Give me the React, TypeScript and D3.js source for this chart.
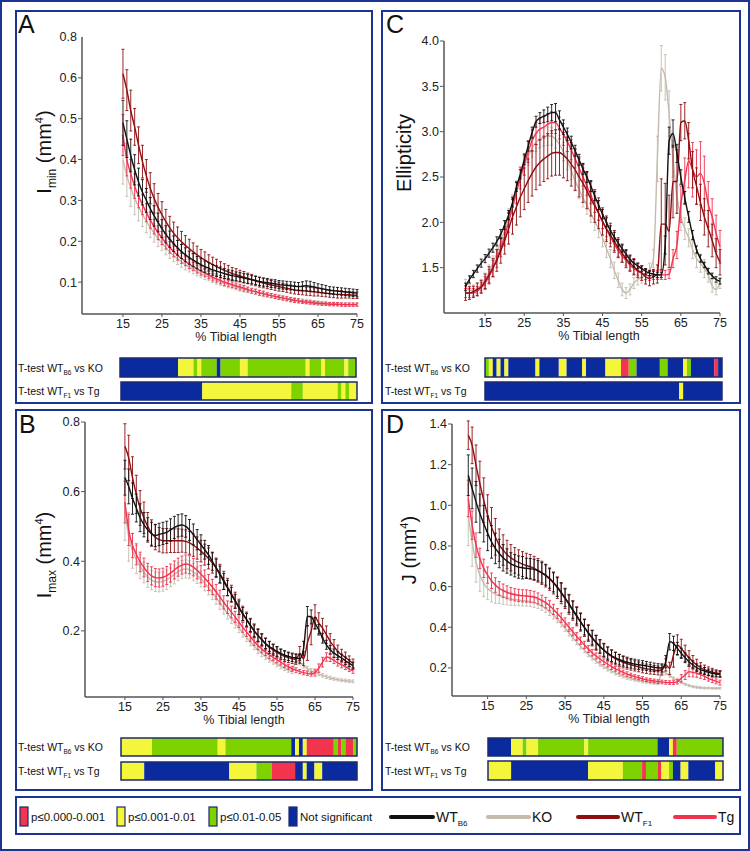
import React from "react";
import * as d3 from "d3";

const FONT = "'Liberation Sans', Arial, Helvetica, sans-serif";
const NAVY = "#1d3391";
const COLORS: Record<string, string> = { WTB6: "#111111", KO: "#c4bbae", WTF1: "#8e0f12", Tg: "#f0334f" };
const SIG: Record<string, string> = { n: "#0b2a9e", g: "#7ed200", y: "#f3f63a", r: "#f2344e" };

// x categories (% tibial length)
const pctAB = d3.range(15, 76);
const pctCD = d3.range(10, 76);
const xTickVals = [15, 25, 35, 45, 55, 65, 75];

// ---------- Panel A : Imin ----------
const A_WTB6 = [0.49,0.45,0.41,0.375,0.345,0.32,0.3,0.28,0.262,0.246, 0.231,0.217,0.205,0.194,0.184,0.175,0.167,0.16,0.154,0.148, 0.143,0.138,0.134,0.13,0.127,0.124,0.121,0.118,0.116,0.114, 0.112,0.11,0.108,0.106,0.104,0.102,0.1,0.099,0.097,0.096, 0.094,0.093,0.092,0.091,0.09,0.089,0.09,0.091,0.09,0.088, 0.086,0.084,0.082,0.08,0.079,0.078,0.077,0.076,0.075,0.074, 0.073];
const A_WTB6_err = [0.055,0.045,0.04,0.037,0.034,0.031,0.029,0.027,0.025,0.023, 0.022,0.021,0.02,0.019,0.018,0.017,0.017,0.016,0.016,0.015, 0.015,0.014,0.014,0.013,0.013,0.013,0.012,0.012,0.012,0.011, 0.011,0.011,0.011,0.01,0.01,0.01,0.01,0.01,0.01,0.01, 0.01,0.01,0.01,0.01,0.01,0.01,0.011,0.012,0.012,0.011, 0.01,0.01,0.01,0.009,0.009,0.009,0.009,0.009,0.009,0.009, 0.009];
const A_WTF1 = [0.61,0.57,0.52,0.48,0.435,0.395,0.36,0.33,0.305,0.283, 0.265,0.248,0.233,0.22,0.209,0.199,0.19,0.182,0.174,0.167, 0.16,0.154,0.148,0.143,0.138,0.133,0.129,0.125,0.121,0.118, 0.115,0.112,0.109,0.106,0.103,0.1,0.098,0.095,0.093,0.091, 0.089,0.087,0.085,0.083,0.081,0.08,0.079,0.078,0.077,0.076, 0.075,0.074,0.073,0.072,0.071,0.07,0.07,0.069,0.069,0.068, 0.068];
const A_WTF1_err = [0.06,0.05,0.05,0.045,0.045,0.04,0.04,0.038,0.036,0.034, 0.032,0.03,0.028,0.027,0.026,0.025,0.024,0.023,0.022,0.021, 0.02,0.02,0.019,0.018,0.018,0.017,0.016,0.016,0.015,0.015, 0.014,0.014,0.013,0.013,0.012,0.012,0.012,0.011,0.011,0.011, 0.011,0.01,0.01,0.01,0.01,0.01,0.01,0.01,0.01,0.01, 0.009,0.009,0.009,0.009,0.009,0.009,0.009,0.008,0.008,0.008, 0.008];
const A_Tg = [0.46,0.4,0.365,0.335,0.31,0.29,0.27,0.252,0.236,0.221, 0.208,0.196,0.185,0.175,0.166,0.158,0.151,0.144,0.138,0.132, 0.127,0.122,0.117,0.112,0.108,0.104,0.1,0.097,0.094,0.091, 0.088,0.085,0.082,0.079,0.077,0.074,0.072,0.069,0.067,0.065, 0.063,0.061,0.059,0.057,0.055,0.054,0.052,0.051,0.05,0.049, 0.048,0.047,0.047,0.046,0.046,0.046,0.045,0.045,0.045,0.045, 0.045];
const A_Tg_err = [0.05,0.04,0.035,0.03,0.028,0.025,0.022,0.02,0.018,0.017, 0.016,0.015,0.014,0.013,0.012,0.012,0.011,0.011,0.01,0.01, 0.01,0.009,0.009,0.009,0.008,0.008,0.008,0.008,0.007,0.007, 0.007,0.007,0.006,0.006,0.006,0.006,0.006,0.005,0.005,0.005, 0.005,0.005,0.005,0.005,0.005,0.005,0.004,0.004,0.004,0.004, 0.004,0.004,0.004,0.004,0.004,0.004,0.004,0.004,0.004,0.004, 0.004];
const A_KO = [0.4,0.36,0.33,0.305,0.285,0.266,0.249,0.234,0.22,0.207, 0.195,0.184,0.174,0.165,0.157,0.15,0.143,0.137,0.131,0.126, 0.121,0.116,0.112,0.108,0.104,0.1,0.097,0.094,0.091,0.088, 0.085,0.083,0.08,0.078,0.076,0.073,0.071,0.069,0.067,0.065, 0.063,0.061,0.06,0.058,0.057,0.055,0.054,0.053,0.052,0.051, 0.05,0.049,0.048,0.047,0.047,0.046,0.046,0.045,0.045,0.045, 0.045];
const A_KO_err = [0.06,0.05,0.045,0.04,0.035,0.03,0.028,0.025,0.022,0.02, 0.018,0.017,0.016,0.015,0.014,0.014,0.013,0.012,0.011,0.011, 0.01,0.01,0.009,0.009,0.009,0.008,0.008,0.008,0.007,0.007, 0.007,0.007,0.006,0.006,0.006,0.006,0.005,0.005,0.005,0.005, 0.005,0.005,0.005,0.005,0.005,0.005,0.005,0.005,0.005,0.004, 0.004,0.004,0.004,0.004,0.004,0.004,0.004,0.004,0.004,0.004, 0.004];

// ---------- Panel B : Imax ----------
const B_WTB6 = [0.64,0.615,0.58,0.553,0.525,0.505,0.49,0.479,0.474,0.477, 0.48,0.483,0.49,0.497,0.502,0.504,0.5,0.49,0.477,0.462, 0.448,0.433,0.418,0.4,0.381,0.362,0.342,0.323,0.304,0.285, 0.266,0.248,0.232,0.216,0.2,0.187,0.175,0.164,0.155,0.148, 0.141,0.135,0.13,0.127,0.124,0.122,0.12,0.15,0.242,0.24, 0.222,0.203,0.179,0.16,0.146,0.136,0.129,0.122,0.114,0.107, 0.1];
const B_WTB6_err = [0.05,0.05,0.045,0.04,0.04,0.035,0.035,0.033,0.032,0.032, 0.032,0.032,0.032,0.032,0.032,0.032,0.031,0.03,0.03,0.029, 0.028,0.027,0.027,0.026,0.025,0.024,0.023,0.022,0.021,0.02, 0.02,0.019,0.018,0.018,0.017,0.017,0.016,0.015,0.015,0.014, 0.014,0.013,0.013,0.012,0.012,0.012,0.013,0.02,0.028,0.02, 0.016,0.015,0.014,0.013,0.012,0.012,0.011,0.011,0.011,0.01, 0.01];
const B_WTF1 = [0.73,0.697,0.64,0.592,0.553,0.525,0.5,0.481,0.469,0.462, 0.459,0.459,0.459,0.459,0.459,0.459,0.457,0.453,0.446,0.438, 0.429,0.419,0.408,0.395,0.381,0.364,0.345,0.326,0.307,0.288, 0.269,0.25,0.233,0.216,0.2,0.187,0.174,0.162,0.152,0.145, 0.138,0.132,0.127,0.123,0.12,0.118,0.135,0.12,0.165,0.2, 0.24,0.222,0.208,0.189,0.17,0.155,0.141,0.131,0.124,0.115, 0.107];
const B_WTF1_err = [0.065,0.065,0.06,0.055,0.05,0.045,0.04,0.038,0.036,0.035, 0.035,0.035,0.034,0.034,0.034,0.033,0.033,0.033,0.032,0.032, 0.031,0.03,0.03,0.029,0.028,0.027,0.026,0.025,0.024,0.023, 0.022,0.021,0.021,0.02,0.02,0.019,0.018,0.017,0.017,0.016, 0.016,0.015,0.015,0.014,0.014,0.014,0.02,0.02,0.05,0.04, 0.035,0.03,0.028,0.025,0.022,0.02,0.018,0.016,0.015,0.013, 0.012];
const B_Tg = [0.57,0.49,0.445,0.42,0.398,0.382,0.368,0.358,0.353,0.352, 0.354,0.359,0.366,0.375,0.383,0.389,0.392,0.39,0.383,0.374, 0.363,0.351,0.339,0.326,0.312,0.297,0.282,0.268,0.254,0.24, 0.225,0.21,0.197,0.183,0.17,0.158,0.148,0.139,0.131,0.124, 0.117,0.11,0.103,0.097,0.091,0.087,0.083,0.08,0.078,0.076, 0.08,0.093,0.11,0.125,0.122,0.115,0.108,0.102,0.097,0.09, 0.085];
const B_Tg_err = [0.06,0.045,0.035,0.03,0.028,0.027,0.026,0.026,0.026,0.026, 0.026,0.026,0.026,0.026,0.026,0.026,0.026,0.026,0.025,0.025, 0.025,0.024,0.023,0.022,0.021,0.02,0.019,0.018,0.017,0.016, 0.015,0.014,0.013,0.013,0.012,0.012,0.011,0.01,0.01,0.009, 0.009,0.008,0.008,0.007,0.007,0.007,0.006,0.006,0.006,0.006, 0.01,0.012,0.014,0.012,0.01,0.009,0.009,0.008,0.008,0.007, 0.007];
const B_KO = [0.55,0.47,0.43,0.405,0.385,0.368,0.355,0.346,0.341,0.34, 0.342,0.347,0.354,0.362,0.37,0.376,0.378,0.376,0.369,0.36, 0.349,0.337,0.324,0.31,0.295,0.28,0.265,0.25,0.236,0.222, 0.208,0.194,0.181,0.168,0.156,0.145,0.135,0.126,0.118,0.111, 0.104,0.098,0.092,0.087,0.083,0.115,0.11,0.1,0.092,0.086, 0.081,0.076,0.072,0.068,0.065,0.062,0.06,0.058,0.057,0.056, 0.055];
const B_KO_err = [0.09,0.07,0.05,0.04,0.035,0.03,0.03,0.028,0.028,0.028, 0.028,0.028,0.027,0.027,0.026,0.026,0.026,0.025,0.025,0.024, 0.023,0.022,0.021,0.02,0.019,0.018,0.017,0.016,0.015,0.014, 0.013,0.012,0.012,0.011,0.01,0.01,0.009,0.008,0.008,0.007, 0.007,0.007,0.006,0.006,0.006,0.01,0.008,0.007,0.006,0.006, 0.005,0.005,0.005,0.005,0.005,0.004,0.004,0.004,0.004,0.004, 0.004];

// ---------- Panel C : Ellipticity ----------
const C_WTB6 = [1.29,1.37,1.43,1.49,1.55,1.6,1.66,1.72,1.79,1.87, 1.97,2.08,2.22,2.39,2.53,2.69,2.84,2.99,3.11,3.15, 3.17,3.19,3.21,3.21,3.13,3.05,2.97,2.88,2.79,2.69, 2.59,2.5,2.4,2.29,2.19,2.09,2.0,1.91,1.84,1.77, 1.71,1.65,1.59,1.55,1.52,1.49,1.46,1.44,1.43,1.42, 1.42,1.75,2.9,2.98,2.76,2.5,2.27,2.06,1.86,1.7, 1.6,1.53,1.46,1.41,1.37,1.35];
const C_WTB6_err = [0.04,0.04,0.04,0.04,0.045,0.045,0.045,0.05,0.05,0.05, 0.05,0.05,0.05,0.05,0.05,0.055,0.055,0.06,0.06,0.06, 0.07,0.08,0.09,0.1,0.1,0.08,0.07,0.07,0.06,0.06, 0.06,0.06,0.06,0.05,0.05,0.05,0.05,0.05,0.05,0.04, 0.04,0.04,0.04,0.04,0.03,0.03,0.03,0.03,0.03,0.03, 0.03,0.1,0.15,0.15,0.1,0.08,0.07,0.06,0.05,0.04, 0.04,0.03,0.03,0.03,0.03,0.03];
const C_WTF1 = [1.22,1.22,1.235,1.26,1.29,1.35,1.42,1.5,1.58,1.69, 1.8,1.93,2.06,2.17,2.28,2.37,2.46,2.54,2.61,2.66, 2.7,2.73,2.76,2.77,2.77,2.74,2.7,2.64,2.58,2.5, 2.43,2.35,2.26,2.18,2.1,2.01,1.93,1.86,1.79,1.72, 1.66,1.6,1.55,1.51,1.47,1.44,1.4,1.38,1.4,1.43, 1.98,1.98,1.9,2.45,2.45,3.1,3.12,2.9,2.58,2.4, 2.22,2.06,1.93,1.8,1.66,1.56];
const C_WTF1_err = [0.08,0.07,0.06,0.07,0.07,0.08,0.09,0.1,0.12,0.14, 0.15,0.17,0.19,0.2,0.22,0.23,0.24,0.25,0.25,0.25, 0.25,0.25,0.25,0.25,0.25,0.25,0.24,0.24,0.23,0.22, 0.21,0.2,0.19,0.18,0.17,0.15,0.14,0.13,0.12,0.11, 0.1,0.1,0.09,0.09,0.08,0.08,0.08,0.08,0.08,0.1, 0.5,0.45,0.4,0.4,0.35,0.2,0.2,0.2,0.2,0.2, 0.2,0.2,0.2,0.18,0.16,0.14];
const C_Tg = [1.22,1.22,1.22,1.24,1.28,1.33,1.4,1.49,1.6,1.72, 1.85,2.0,2.16,2.33,2.49,2.64,2.78,2.9,2.98,3.03, 3.05,3.08,3.1,3.1,3.04,2.97,2.89,2.8,2.7,2.6, 2.5,2.4,2.3,2.2,2.1,2.01,1.92,1.84,1.76,1.69, 1.63,1.58,1.53,1.49,1.46,1.44,1.42,1.41,1.42,1.42, 1.42,1.42,1.43,1.6,1.75,2.2,2.46,2.68,2.58,2.5, 2.54,2.43,2.2,2.06,1.88,1.73];
const C_Tg_err = [0.05,0.05,0.05,0.05,0.06,0.07,0.08,0.09,0.1,0.1, 0.11,0.11,0.12,0.12,0.12,0.12,0.12,0.12,0.12,0.12, 0.12,0.12,0.12,0.12,0.12,0.12,0.11,0.11,0.1,0.1, 0.1,0.1,0.09,0.09,0.08,0.08,0.08,0.07,0.07,0.07, 0.07,0.06,0.06,0.06,0.05,0.05,0.05,0.05,0.05,0.05, 0.05,0.05,0.05,0.1,0.15,0.2,0.25,0.3,0.3,0.3, 0.35,0.3,0.25,0.2,0.2,0.18];
const C_KO = [1.3,1.25,1.25,1.27,1.31,1.37,1.45,1.55,1.66,1.78, 1.91,2.05,2.2,2.36,2.5,2.62,2.73,2.82,2.88,2.92, 2.94,2.95,2.95,2.92,2.86,2.78,2.68,2.57,2.46,2.36, 2.27,2.19,2.1,2.01,1.93,1.83,1.71,1.6,1.47,1.36, 1.26,1.22,1.26,1.33,1.37,1.39,1.42,1.47,1.6,2.7, 3.7,3.6,3.2,2.7,2.28,2.06,1.93,1.83,1.7,1.6, 1.55,1.49,1.42,1.3,1.26,1.33];
const C_KO_err = [0.07,0.06,0.06,0.06,0.06,0.07,0.08,0.08,0.09,0.09, 0.1,0.1,0.1,0.1,0.1,0.1,0.1,0.1,0.1,0.1, 0.1,0.1,0.1,0.1,0.1,0.1,0.1,0.1,0.1,0.1, 0.1,0.1,0.1,0.1,0.1,0.1,0.1,0.1,0.09,0.08, 0.07,0.06,0.06,0.06,0.06,0.06,0.07,0.08,0.1,0.25, 0.25,0.25,0.25,0.2,0.18,0.15,0.12,0.1,0.1,0.1, 0.1,0.1,0.08,0.07,0.06,0.06];

// ---------- Panel D : J ----------
const D_WTB6 = [1.148,1.083,1.017,0.96,0.91,0.862,0.82,0.788,0.763,0.742, 0.726,0.712,0.703,0.696,0.693,0.69,0.688,0.685,0.678,0.668, 0.657,0.64,0.621,0.598,0.572,0.545,0.516,0.486,0.457,0.427, 0.4,0.373,0.349,0.326,0.306,0.288,0.273,0.26,0.25,0.241, 0.234,0.228,0.223,0.219,0.216,0.213,0.21,0.206,0.203,0.201, 0.2,0.231,0.329,0.321,0.296,0.272,0.25,0.231,0.215,0.201, 0.192,0.185,0.178,0.174,0.17,0.169];
const D_WTB6_err = [0.1,0.1,0.1,0.095,0.09,0.085,0.08,0.075,0.07,0.065, 0.06,0.055,0.055,0.055,0.055,0.05,0.05,0.05,0.05,0.05, 0.05,0.048,0.047,0.046,0.045,0.044,0.043,0.042,0.041,0.04, 0.038,0.036,0.035,0.034,0.032,0.031,0.03,0.028,0.027,0.026, 0.025,0.025,0.024,0.024,0.023,0.023,0.022,0.022,0.021,0.02, 0.02,0.03,0.04,0.035,0.03,0.025,0.024,0.022,0.02,0.019, 0.018,0.017,0.016,0.016,0.015,0.015];
const D_WTF1 = [1.345,1.295,1.197,1.107,1.025,0.952,0.894,0.845,0.804,0.78, 0.758,0.742,0.729,0.719,0.711,0.704,0.698,0.69,0.68,0.668, 0.654,0.637,0.618,0.595,0.568,0.542,0.513,0.483,0.454,0.426, 0.398,0.372,0.347,0.324,0.305,0.287,0.27,0.257,0.246,0.236, 0.228,0.221,0.215,0.21,0.205,0.2,0.196,0.193,0.19,0.188, 0.19,0.215,0.198,0.264,0.313,0.296,0.272,0.25,0.231,0.215, 0.201,0.192,0.185,0.18,0.175,0.172];
const D_WTF1_err = [0.07,0.09,0.1,0.11,0.11,0.1,0.095,0.09,0.08,0.075, 0.07,0.065,0.063,0.062,0.061,0.06,0.06,0.059,0.058,0.057, 0.056,0.055,0.054,0.053,0.052,0.05,0.049,0.048,0.047,0.045, 0.043,0.041,0.039,0.037,0.035,0.034,0.033,0.032,0.031,0.03, 0.028,0.027,0.026,0.025,0.024,0.024,0.023,0.023,0.022,0.022, 0.025,0.03,0.03,0.06,0.05,0.045,0.04,0.035,0.03,0.028, 0.025,0.022,0.02,0.018,0.016,0.015];
const D_Tg = [1.034,0.902,0.804,0.739,0.69,0.657,0.629,0.608,0.591,0.58, 0.572,0.565,0.56,0.557,0.555,0.554,0.552,0.549,0.542,0.532, 0.521,0.506,0.488,0.468,0.447,0.424,0.401,0.378,0.355,0.334, 0.313,0.293,0.275,0.259,0.244,0.231,0.218,0.206,0.196,0.187, 0.178,0.17,0.164,0.157,0.152,0.147,0.142,0.139,0.136,0.133, 0.131,0.129,0.128,0.128,0.133,0.149,0.165,0.182,0.178,0.174, 0.167,0.159,0.149,0.141,0.134,0.128];
const D_Tg_err = [0.09,0.07,0.06,0.05,0.045,0.04,0.038,0.036,0.034,0.033, 0.032,0.031,0.03,0.03,0.03,0.03,0.029,0.028,0.027,0.026, 0.026,0.025,0.025,0.024,0.023,0.022,0.021,0.02,0.019,0.018, 0.018,0.017,0.016,0.015,0.015,0.014,0.013,0.013,0.012,0.012, 0.011,0.011,0.01,0.01,0.01,0.01,0.009,0.009,0.009,0.009, 0.009,0.009,0.009,0.009,0.012,0.018,0.022,0.025,0.022,0.02, 0.018,0.016,0.014,0.013,0.012,0.012];
const D_KO = [0.952,0.82,0.722,0.657,0.616,0.591,0.575,0.563,0.557,0.55, 0.545,0.54,0.537,0.534,0.531,0.529,0.526,0.521,0.514,0.504, 0.493,0.478,0.46,0.441,0.419,0.396,0.373,0.35,0.327,0.306, 0.287,0.267,0.25,0.234,0.219,0.206,0.195,0.185,0.175,0.167, 0.159,0.152,0.147,0.142,0.138,0.134,0.131,0.128,0.126,0.124, 0.182,0.174,0.162,0.149,0.138,0.128,0.12,0.113,0.108,0.105, 0.103,0.101,0.101,0.1,0.1,0.1];
const D_KO_err = [0.15,0.12,0.1,0.08,0.065,0.055,0.05,0.045,0.04,0.037, 0.035,0.032,0.03,0.028,0.026,0.025,0.024,0.023,0.022,0.021, 0.02,0.02,0.019,0.018,0.017,0.016,0.015,0.014,0.013,0.013, 0.012,0.012,0.011,0.011,0.01,0.01,0.01,0.009,0.009,0.008, 0.008,0.008,0.007,0.007,0.007,0.007,0.006,0.006,0.006,0.006, 0.01,0.008,0.007,0.006,0.006,0.005,0.005,0.005,0.005,0.005, 0.005,0.004,0.004,0.004,0.004,0.004];

// ---------- T-test significance segments [from %, to %, code] ----------
type Seg = [number, number, string];
const ttA1: Seg[] = [[15,29,"n"],[30,33,"y"],[34,34,"g"],[35,35,"y"],[36,39,"g"],[40,40,"n"],[41,45,"g"],[46,47,"y"],[48,62,"g"],[63,63,"y"],[64,66,"g"],[67,67,"y"],[68,72,"g"],[73,73,"y"],[74,75,"g"]];
const ttA2: Seg[] = [[15,35,"n"],[36,58,"y"],[59,61,"g"],[62,70,"y"],[71,71,"g"],[72,72,"y"],[73,73,"g"],[74,75,"y"]];
const ttB1: Seg[] = [[15,22,"y"],[23,39,"g"],[40,41,"y"],[42,58,"g"],[59,59,"n"],[60,60,"y"],[61,61,"n"],[62,62,"y"],[63,69,"r"],[70,70,"g"],[71,71,"r"],[72,72,"g"],[73,74,"r"],[75,75,"g"]];
const ttB2: Seg[] = [[15,20,"y"],[21,42,"n"],[43,49,"y"],[50,53,"g"],[54,59,"r"],[60,61,"n"],[62,62,"y"],[63,64,"n"],[65,66,"y"],[67,75,"n"]];
const ttC1: Seg[] = [[15,15,"g"],[16,16,"y"],[17,17,"n"],[18,18,"y"],[19,19,"n"],[20,20,"y"],[21,27,"n"],[28,28,"y"],[29,33,"n"],[34,35,"y"],[36,39,"n"],[40,40,"y"],[41,45,"n"],[46,49,"y"],[50,51,"r"],[52,53,"g"],[54,59,"n"],[60,61,"g"],[62,65,"n"],[66,66,"y"],[67,67,"g"],[68,73,"n"],[74,74,"r"],[75,75,"n"]];
const ttC2: Seg[] = [[15,64,"n"],[65,65,"y"],[66,75,"n"]];
const ttD1: Seg[] = [[15,20,"n"],[21,23,"y"],[24,24,"g"],[25,27,"y"],[28,39,"g"],[40,40,"y"],[41,58,"g"],[59,61,"n"],[62,62,"y"],[63,63,"r"],[64,75,"g"]];
const ttD2: Seg[] = [[15,20,"y"],[21,40,"n"],[41,49,"y"],[50,54,"g"],[55,55,"r"],[56,58,"g"],[59,59,"r"],[60,61,"y"],[62,62,"g"],[63,64,"n"],[65,66,"y"],[67,73,"n"],[74,75,"y"]];

const sigLegendLabels = ["p≤0.000-0.001", "p≤0.001-0.01", "p≤0.01-0.05", "Not significant"];
const sigLegendCodes = ["r", "y", "g", "n"];

type Series = { key: string; mean: number[]; err: number[] };
interface PanelCfg {
  letter: string;
  frame: [number, number, number, number];
  letterXY: [number, number];
  xDomain: [number, number]; xRange: [number, number];
  yDomain: [number, number]; yRange: [number, number];
  yTicks: number[]; yTickLabels: string[];
  pct: number[];
  series: Series[];
  yTitle: "Imin" | "Imax" | "Ell" | "J";
  yTitleXY: [number, number];
  xTitleX: number;
  tt: Seg[][]; ttX: [number, number][]; ttY: [number, number][]; ttLabelX: number;
}

const mkSeries = (wtb6: number[], wtb6e: number[], ko: number[], koe: number[], wtf1: number[], wtf1e: number[], tg: number[], tge: number[]): Series[] => [
  { key: "KO", mean: ko, err: koe },
  { key: "Tg", mean: tg, err: tge },
  { key: "WTF1", mean: wtf1, err: wtf1e },
  { key: "WTB6", mean: wtb6, err: wtb6e },
];

const panels: PanelCfg[] = [
  {
    letter: "A", frame: [16, 11, 356, 392], letterXY: [18, 33],
    xDomain: [4.5, 75], xRange: [82, 357], yDomain: [0.022, 0.7], yRange: [314, 37],
    yTicks: [0.1, 0.2, 0.3, 0.4, 0.5, 0.6, 0.7], yTickLabels: ["0.1", "0.2", "0.3", "0.4", "0.5", "0.6", "0.8"],
    pct: pctAB, series: mkSeries(A_WTB6, A_WTB6_err, A_KO, A_KO_err, A_WTF1, A_WTF1_err, A_Tg, A_Tg_err),
    yTitle: "Imin", yTitleXY: [44, 152], xTitleX: 236,
    tt: [ttA1, ttA2], ttX: [[120, 356], [121, 357]], ttY: [[358, 377], [382, 400]], ttLabelX: 18,
  },
  {
    letter: "B", frame: [16, 410, 356, 380], letterXY: [19, 433],
    xDomain: [4.5, 75], xRange: [85, 353], yDomain: [0.01, 0.8], yRange: [697, 422],
    yTicks: [0.2, 0.4, 0.6, 0.8], yTickLabels: ["0.2", "0.4", "0.6", "0.8"],
    pct: pctAB, series: mkSeries(B_WTB6, B_WTB6_err, B_KO, B_KO_err, B_WTF1, B_WTF1_err, B_Tg, B_Tg_err),
    yTitle: "Imax", yTitleXY: [44, 555], xTitleX: 244,
    tt: [ttB1, ttB2], ttX: [[121, 357], [121, 357]], ttY: [[738, 756], [762, 780]], ttLabelX: 18,
  },
  {
    letter: "C", frame: [382, 11, 358, 392], letterXY: [386, 33],
    xDomain: [4.5, 75], xRange: [444, 720], yDomain: [1, 4], yRange: [313, 41],
    yTicks: [1.5, 2, 2.5, 3, 3.5, 4], yTickLabels: ["1.5", "2.0", "2.5", "3.0", "3.5", "4.0"],
    pct: pctCD, series: mkSeries(C_WTB6, C_WTB6_err, C_KO, C_KO_err, C_WTF1, C_WTF1_err, C_Tg, C_Tg_err),
    yTitle: "Ell", yTitleXY: [404, 153], xTitleX: 599,
    tt: [ttC1, ttC2], ttX: [[485, 722], [485, 722]], ttY: [[358, 377], [382, 400]], ttLabelX: 385,
  },
  {
    letter: "D", frame: [382, 410, 358, 380], letterXY: [386, 433],
    xDomain: [5.8, 75], xRange: [452, 720], yDomain: [0.062, 1.4], yRange: [696, 424],
    yTicks: [0.2, 0.4, 0.6, 0.8, 1.0, 1.2, 1.4], yTickLabels: ["0.2", "0.4", "0.6", "0.8", "1.0", "1.2", "1.4"],
    pct: pctCD, series: mkSeries(D_WTB6, D_WTB6_err, D_KO, D_KO_err, D_WTF1, D_WTF1_err, D_Tg, D_Tg_err),
    yTitle: "J", yTitleXY: [409, 550], xTitleX: 609,
    tt: [ttD1, ttD2], ttX: [[488, 723], [488, 723]], ttY: [[738, 756], [761, 780]], ttLabelX: 385,
  },
];

function YTitle({ kind, x, y }: { kind: string; x: number; y: number }) {
  const tr = `translate(${x},${y}) rotate(-90)`;
  const common = { transform: tr, textAnchor: "middle" as const, fontFamily: FONT, fontSize: 20, fill: "#111" };
  if (kind === "Ell") return <text {...common} dy="0.35em">Ellipticity</text>;
  const unit = (
    <>
      <tspan> (mm</tspan>
      <tspan dy={-8} fontSize={11}>4</tspan>
      <tspan dy={8}>)</tspan>
    </>
  );
  if (kind === "J") return <text {...common} dy="0.35em">J{unit}</text>;
  return (
    <text {...common} dy="0.35em">
      I<tspan dy={5} fontSize={12}>{kind === "Imin" ? "min" : "max"}</tspan>
      <tspan dy={-5}> (mm</tspan>
      <tspan dy={-8} fontSize={11}>4</tspan>
      <tspan dy={8}>)</tspan>
    </text>
  );
}

function Panel({ c }: { c: PanelCfg }) {
  const x = d3.scaleLinear().domain(c.xDomain).range(c.xRange);
  const y = d3.scaleLinear().domain(c.yDomain).range(c.yRange);
  const line = d3.line<[number, number]>().x(d => x(d[0])).y(d => y(d[1])).curve(d3.curveMonotoneX);
  const ax = c.xRange[0];
  const ay = c.yRange[0];
  const [fx, fy, fw, fh] = c.frame;
  const rowLabels = [["B6", "KO"], ["F1", "Tg"]];
  return (
    <g>
      <rect x={fx} y={fy} width={fw} height={fh} fill="#fff" stroke={NAVY} strokeWidth={2} />
      <text x={c.letterXY[0]} y={c.letterXY[1]} fontFamily={FONT} fontSize={25} fill="#111">{c.letter}</text>
      {c.series.map(s => {
        const col = COLORS[s.key];
        let d = "";
        c.pct.forEach((p, i) => {
          const xx = x(p);
          const y1 = y(s.mean[i] + s.err[i]);
          const y2 = y(s.mean[i] - s.err[i]);
          d += `M${xx},${y1}V${y2}M${xx - 1.5},${y1}h3M${xx - 1.5},${y2}h3`;
        });
        const pts = c.pct.map((p, i) => [p, s.mean[i]] as [number, number]);
        return (
          <g key={s.key}>
            <path d={d} stroke={col} strokeWidth={0.9} fill="none" />
            <path d={line(pts) || ""} stroke={col} strokeWidth={1.4} fill="none" />
          </g>
        );
      })}
      {/* axes */}
      <line x1={ax} x2={ax} y1={c.yRange[1]} y2={ay} stroke="#555" strokeWidth={1.5} />
      <line x1={ax} x2={c.xRange[1]} y1={ay} y2={ay} stroke="#555" strokeWidth={1.5} />
      {c.yTicks.map((t, i) => (
        <g key={t}>
          {i < c.yTicks.length - 1 || c.letter !== "A" ? <line x1={ax - 4} x2={ax} y1={y(t)} y2={y(t)} stroke="#555" strokeWidth={1} /> : null}
          <text x={ax - 5} y={y(t)} dy="0.35em" textAnchor="end" fontFamily={FONT} fontSize={12.5} fill="#222">{c.yTickLabels[i]}</text>
        </g>
      ))}
      {xTickVals.map(t => (
        <g key={t}>
          <line x1={x(t)} x2={x(t)} y1={ay} y2={ay + 3} stroke="#555" strokeWidth={1} />
          <text x={x(t)} y={ay + 14} textAnchor="middle" fontFamily={FONT} fontSize={12.5} fill="#222">{t}</text>
        </g>
      ))}
      <text x={c.xTitleX} y={ay + 27} textAnchor="middle" fontFamily={FONT} fontSize={12.5} fill="#222">% Tibial length</text>
      <YTitle kind={c.yTitle} x={c.yTitleXY[0]} y={c.yTitleXY[1]} />
      {/* t-test bars */}
      {c.tt.map((segs, r) => {
        const bs = d3.scaleLinear().domain([14.5, 75.5]).range(c.ttX[r]);
        const [y0, y1] = c.ttY[r];
        return (
          <g key={r}>
            {segs.map((s, k) => (
              <rect key={k} x={bs(s[0] - 0.5)} y={y0} width={bs(s[1] + 0.5) - bs(s[0] - 0.5)} height={y1 - y0} fill={SIG[s[2]]} />
            ))}
            <rect x={c.ttX[r][0]} y={y0} width={c.ttX[r][1] - c.ttX[r][0]} height={y1 - y0} fill="none" stroke="#1c2a6e" strokeWidth={1.5} />
            <text x={c.ttLabelX} y={(y0 + y1) / 2 + 4} fontFamily={FONT} fontSize={10.5} fill="#111">
              T-test WT<tspan dy={3} fontSize={6.5}>{rowLabels[r][0]}</tspan><tspan dy={-3}> vs {rowLabels[r][1]}</tspan>
            </text>
          </g>
        );
      })}
    </g>
  );
}

function Legend() {
  const sqX = [20, 117, 209, 289];
  const lineItems = [
    { key: "WTB6", x0: 391, x1: 433, label: "WT", sub: "B6" },
    { key: "KO", x0: 488, x1: 529, label: "KO", sub: "" },
    { key: "WTF1", x0: 578, x1: 618, label: "WT", sub: "F1" },
    { key: "Tg", x0: 675, x1: 715, label: "Tg", sub: "" },
  ];
  return (
    <g>
      <rect x={16} y={797} width={724} height={37} fill="#fff" stroke={NAVY} strokeWidth={2} />
      {sigLegendLabels.map((lab, i) => (
        <g key={lab}>
          <rect x={sqX[i]} y={807} width={8} height={19} fill={SIG[sigLegendCodes[i]]} stroke="#1c2a6e" strokeWidth={1.2} />
          <text x={sqX[i] + 11} y={821} fontFamily={FONT} fontSize={11.5} fill="#111">{lab}</text>
        </g>
      ))}
      {lineItems.map(it => (
        <g key={it.key}>
          <line x1={it.x0} x2={it.x1} y1={817} y2={817} stroke={COLORS[it.key]} strokeWidth={4} strokeLinecap="round" />
          <text x={it.x1 + 3} y={822} fontFamily={FONT} fontSize={14} fill="#111">
            {it.label}{it.sub ? <tspan dy={4} fontSize={8}>{it.sub}</tspan> : null}
          </text>
        </g>
      ))}
    </g>
  );
}

export default function App() {
  return (
    <svg width={750} height={851} style={{ position: "absolute", left: 0, top: 0, display: "block", background: "#fff" }}>
      <rect x={1} y={1} width={748} height={849} fill="#fff" stroke={NAVY} strokeWidth={2} />
      {panels.map(p => <Panel key={p.letter} c={p} />)}
      <Legend />
    </svg>
  );
}
